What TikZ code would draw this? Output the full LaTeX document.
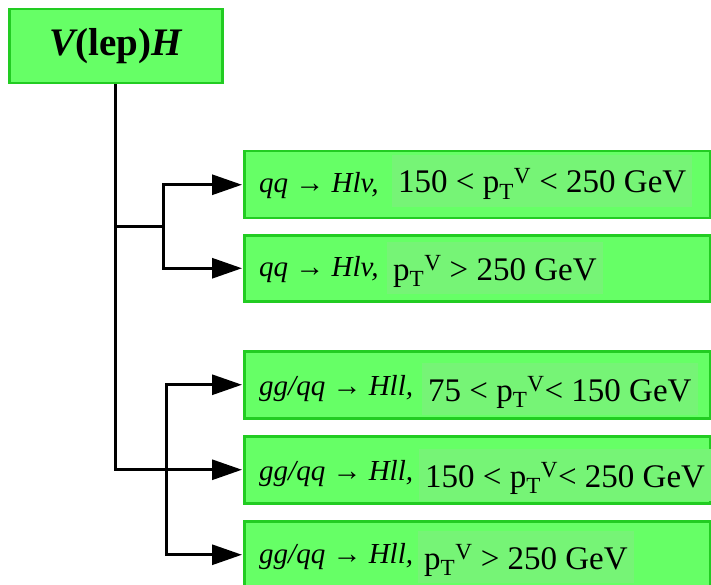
\documentclass[tikz,border=0pt]{standalone}
\usepackage{fontspec}
\setmainfont{Liberation Serif}
\usetikzlibrary{arrows.meta}

\definecolor{boxfill}{HTML}{66FF66}
\definecolor{boxline}{HTML}{22CC22}
\definecolor{patchfill}{HTML}{76F476}

\tikzset{
  catbox/.style={draw=boxline, line width=2.5pt, fill=boxfill, inner sep=0pt, anchor=north west},
  proc/.style={anchor=base west, inner sep=0pt, font=\fontsize{29}{33}\selectfont\itshape},
  ptlabel/.style={anchor=base west, fill=patchfill, inner xsep=6pt, inner ysep=8pt,
    text height=30pt, text depth=6pt, font=\fontsize{33}{38}\selectfont},
  link/.style={line width=3pt, line join=miter, black},
  arr/.style={link, -{Triangle[length=30pt,width=20pt]}, shorten >=1pt}
}

\newcommand{\ptv}{p\textsubscript{T}\textsuperscript{V}}

\begin{document}
\begin{tikzpicture}[x=1pt, y=-1pt]
\useasboundingbox (0,0) rectangle (711,585);

% category boxes
\node[catbox, minimum width=213pt, minimum height=74pt] (top) at (8,8)
  {\fontsize{39}{43}\selectfont\bfseries\itshape V\upshape(lep)\itshape H};
\node[catbox, minimum width=466pt, minimum height=67pt] (b1) at (243,150) {};
\node[catbox, minimum width=466pt, minimum height=66pt] (b2) at (243,234) {};
\node[catbox, minimum width=466pt, minimum height=67pt] (b3) at (243,350) {};
\node[catbox, minimum width=466pt, minimum height=67pt] (b4) at (243,435) {};
\node[catbox, minimum width=466pt, minimum height=67pt] (b5) at (243,520) {};

% process names
\node[proc] (p1) at (259,193) {qq \upshape→\itshape{} Hlv,};
\node[proc] (p2) at (259,276) {qq \upshape→\itshape{} Hlv,};
\node[proc] (p3) at (259,395) {gg/qq \upshape→\itshape{} Hll,};
\node[proc] (p4) at (259,480) {gg/qq \upshape→\itshape{} Hll,};
\node[proc] (p5) at (259,563) {gg/qq \upshape→\itshape{} Hll,};

% transverse momentum ranges
\node[ptlabel] (r1) at (392,193) {150 < \ptv{} < 250 GeV};
\node[ptlabel] (r2) at (387,280) {\ptv{} > 250 GeV};
\node[ptlabel] (r3) at (422,401) {75 < \ptv{}< 150 GeV};
\node[ptlabel] (r4) at (419,487) {150 < \ptv{}< 250 GeV};
\node[ptlabel] (r5) at (418,569) {\ptv{} > 250 GeV};

% connectors
\coordinate (s1) at (163,226);
\coordinate (s2) at (166,468);
\draw[link] (top.south |- s1) -- (s1);
\draw[arr] (s1) |- (b1.west);
\draw[arr] (s1) |- (b2.west);
\draw[arr] (top.south) |- (b4.west);
\draw[arr] (s2) |- (b3.west);
\draw[arr] (s2) |- (b5.west);
\end{tikzpicture}
\end{document}
